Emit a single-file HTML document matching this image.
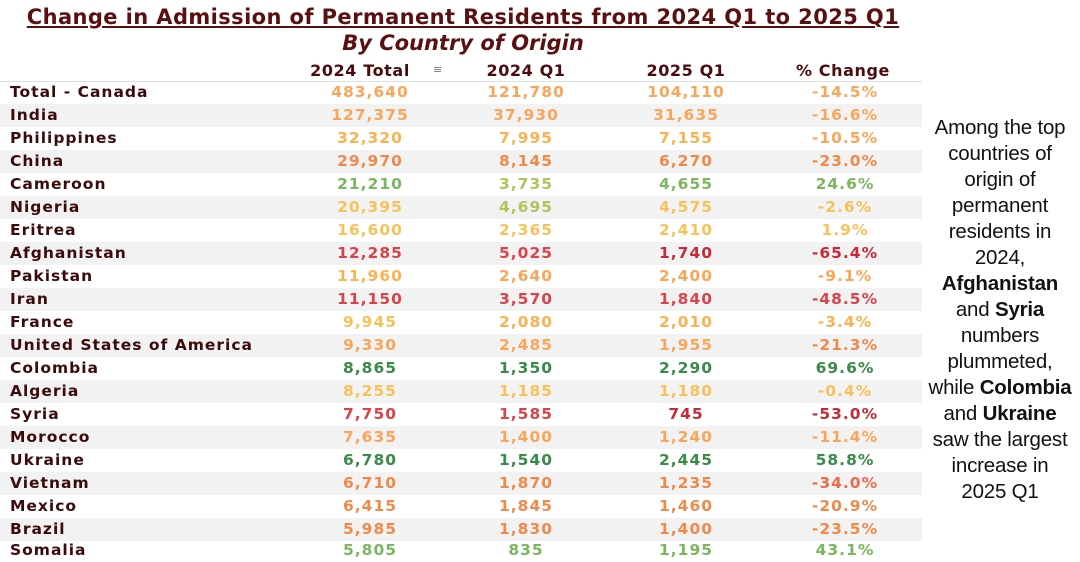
<!DOCTYPE html>
<html><head><meta charset="utf-8"><style>
body{margin:0;width:1080px;height:559px;background:#fff;position:relative;overflow:hidden;font-family:"DejaVu Sans","Liberation Sans",sans-serif;}
.t{position:absolute;left:0;width:926px;text-align:center;color:#5a1010;font-weight:bold;}
.row{position:absolute;left:0;width:922px;height:23px;line-height:23px;font-weight:bold;font-size:15.5px;letter-spacing:1px;}
.row.g{background:#f2f2f2;}
.row span{position:absolute;top:0;text-align:center;width:140px;}
.c0{left:10px;text-align:left!important;width:300px!important;color:#3b0a0a;}
.c1{left:300px}.c2{left:456px}.c3{left:616px}.c4{left:775px}
.hd{position:absolute;top:61px;height:20px;line-height:20px;font-weight:bold;font-size:16px;letter-spacing:0.6px;color:#4a0c0c;width:160px;text-align:center;}
.side{position:absolute;left:920px;width:160px;top:115px;text-align:center;font-family:"Liberation Sans",sans-serif;font-size:20.5px;line-height:26px;color:#111;letter-spacing:-0.2px;}
.lo{color:#f9a65a}.or{color:#f08a4b}.ye{color:#f7c25a}.yo{color:#f9b350}.gr{color:#7bb661}.yg{color:#b5c25a}.dg{color:#3a8a4a}.rd{color:#d9444c}.dr{color:#c42a3a}.ro{color:#ec6a4a}
</style></head><body>
<div class="t" style="top:5px;font-size:21px;letter-spacing:0.4px;text-decoration:underline;">Change in Admission of Permanent Residents from 2024 Q1 to 2025 Q1</div>
<div class="t" style="top:31px;font-size:21px;font-style:italic;">By Country of Origin</div>
<div class="hd" style="left:280px">2024 Total</div>
<div style="position:absolute;left:433px;top:63px;font-size:11px;color:#777;">&#8801;</div>
<div class="hd" style="left:446px">2024 Q1</div>
<div class="hd" style="left:606px">2025 Q1</div>
<div class="hd" style="left:763px">% Change</div>
<div style="position:absolute;left:0;top:81px;width:922px;height:1px;background:#ddd"></div>

<div class="row" style="top:81px"><span class="c0">Total - Canada</span><span class="c1 lo">483,640</span><span class="c2 lo">121,780</span><span class="c3 lo">104,110</span><span class="c4 lo">-14.5%</span></div>
<div class="row g" style="top:104px"><span class="c0">India</span><span class="c1 lo">127,375</span><span class="c2 lo">37,930</span><span class="c3 lo">31,635</span><span class="c4 lo">-16.6%</span></div>
<div class="row" style="top:127px"><span class="c0">Philippines</span><span class="c1 yo">32,320</span><span class="c2 yo">7,995</span><span class="c3 yo">7,155</span><span class="c4 lo">-10.5%</span></div>
<div class="row g" style="top:150px"><span class="c0">China</span><span class="c1 or">29,970</span><span class="c2 or">8,145</span><span class="c3 or">6,270</span><span class="c4 or">-23.0%</span></div>
<div class="row" style="top:173px"><span class="c0">Cameroon</span><span class="c1 gr">21,210</span><span class="c2 yg">3,735</span><span class="c3 gr">4,655</span><span class="c4 gr">24.6%</span></div>
<div class="row g" style="top:196px"><span class="c0">Nigeria</span><span class="c1 ye">20,395</span><span class="c2 yg">4,695</span><span class="c3 ye">4,575</span><span class="c4 ye">-2.6%</span></div>
<div class="row" style="top:219px"><span class="c0">Eritrea</span><span class="c1 ye">16,600</span><span class="c2 ye">2,365</span><span class="c3 ye">2,410</span><span class="c4 ye">1.9%</span></div>
<div class="row g" style="top:242px"><span class="c0">Afghanistan</span><span class="c1 rd">12,285</span><span class="c2 rd">5,025</span><span class="c3 dr">1,740</span><span class="c4 dr">-65.4%</span></div>
<div class="row" style="top:265px"><span class="c0">Pakistan</span><span class="c1 yo">11,960</span><span class="c2 lo">2,640</span><span class="c3 lo">2,400</span><span class="c4 lo">-9.1%</span></div>
<div class="row g" style="top:288px"><span class="c0">Iran</span><span class="c1 rd">11,150</span><span class="c2 rd">3,570</span><span class="c3 rd">1,840</span><span class="c4 rd">-48.5%</span></div>
<div class="row" style="top:311px"><span class="c0">France</span><span class="c1 ye">9,945</span><span class="c2 yo">2,080</span><span class="c3 yo">2,010</span><span class="c4 yo">-3.4%</span></div>
<div class="row g" style="top:334px"><span class="c0">United States of America</span><span class="c1 lo">9,330</span><span class="c2 lo">2,485</span><span class="c3 lo">1,955</span><span class="c4 or">-21.3%</span></div>
<div class="row" style="top:357px"><span class="c0">Colombia</span><span class="c1 dg">8,865</span><span class="c2 dg">1,350</span><span class="c3 dg">2,290</span><span class="c4 dg">69.6%</span></div>
<div class="row g" style="top:380px"><span class="c0">Algeria</span><span class="c1 ye">8,255</span><span class="c2 ye">1,185</span><span class="c3 ye">1,180</span><span class="c4 ye">-0.4%</span></div>
<div class="row" style="top:403px"><span class="c0">Syria</span><span class="c1 rd">7,750</span><span class="c2 rd">1,585</span><span class="c3 dr">745</span><span class="c4 dr">-53.0%</span></div>
<div class="row g" style="top:426px"><span class="c0">Morocco</span><span class="c1 lo">7,635</span><span class="c2 lo">1,400</span><span class="c3 lo">1,240</span><span class="c4 lo">-11.4%</span></div>
<div class="row" style="top:449px"><span class="c0">Ukraine</span><span class="c1 dg">6,780</span><span class="c2 dg">1,540</span><span class="c3 dg">2,445</span><span class="c4 dg">58.8%</span></div>
<div class="row g" style="top:472px"><span class="c0">Vietnam</span><span class="c1 or">6,710</span><span class="c2 or">1,870</span><span class="c3 or">1,235</span><span class="c4 ro">-34.0%</span></div>
<div class="row" style="top:495px"><span class="c0">Mexico</span><span class="c1 or">6,415</span><span class="c2 or">1,845</span><span class="c3 or">1,460</span><span class="c4 or">-20.9%</span></div>
<div class="row g" style="top:518px"><span class="c0">Brazil</span><span class="c1 or">5,985</span><span class="c2 or">1,830</span><span class="c3 or">1,400</span><span class="c4 or">-23.5%</span></div>
<div class="row" style="top:539px"><span class="c0">Somalia</span><span class="c1 gr">5,805</span><span class="c2 gr">835</span><span class="c3 gr">1,195</span><span class="c4 gr">43.1%</span></div>

<div class="side">Among the top<br>countries of<br>origin of<br>permanent<br>residents in<br>2024,<br><b>Afghanistan</b><br>and <b>Syria</b><br>numbers<br>plummeted,<br>while <b>Colombia</b><br>and <b>Ukraine</b><br>saw the largest<br>increase in<br>2025 Q1</div>
</body></html>
